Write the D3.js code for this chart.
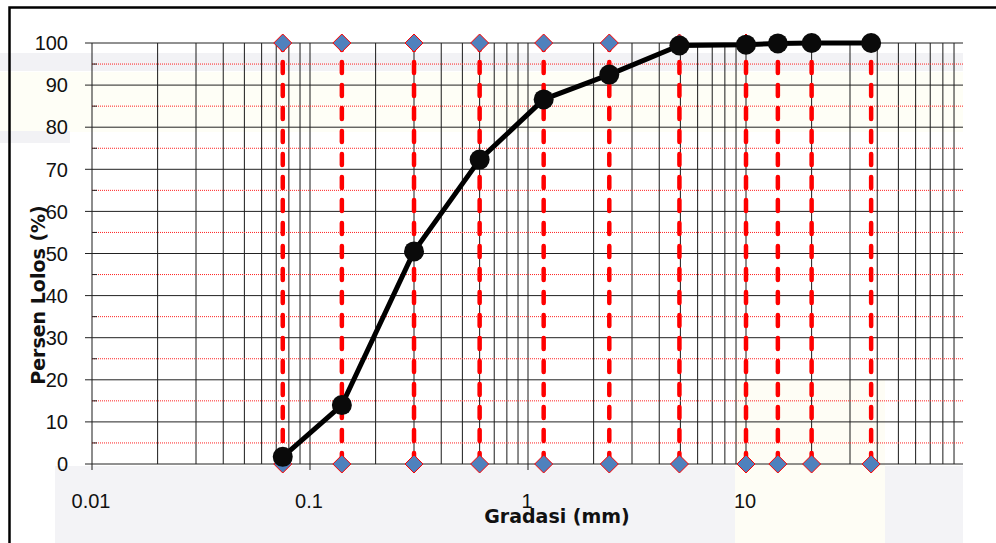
<!DOCTYPE html>
<html lang="id">
<head>
    <meta charset="UTF-8">
    <title>Gradasi Agregat</title>
    <script src="https://d3js.org/d3.v7.min.js"></script>
    <style>
        body { margin: 0; background: #fff; }
        svg { display: block; }
        .tick-label { font-family: "Liberation Sans", Arial, sans-serif; font-size: 20px; fill: #111; }
        .axis-title { font-family: "DejaVu Sans", Verdana, sans-serif; font-size: 19px; font-weight: bold; fill: #111; }
    </style>
</head>
<body>
<div id="chart"></div>
<script>
    // sieve sizes (mm) and percent passing
    const sieveSizes = [0.075, 0.14, 0.3, 0.6, 1.18, 2.36, 4.95, 10, 14, 20, 37.5];
    const percentPassing = [1.7, 14.0, 50.5, 72.3, 86.6, 92.5, 99.4, 99.6, 99.9, 100, 100];
    // limit lines drawn at each sieve from 0 to 100
    const limitLow = 0, limitHigh = 100;
    const yTicks = [0, 10, 20, 30, 40, 50, 60, 70, 80, 90, 100];
    const yHalfTicks = [5, 15, 25, 35, 45, 55, 65, 75, 85, 95];
    const xTickLabels = [0.01, 0.1, 1, 10];

    const W = 996, H = 543;
    const margin = {top: 43, right: 32, bottom: 79, left: 92},
          width = W - margin.left - margin.right,
          height = H - margin.top - margin.bottom;

    const root = d3.select("#chart").append("svg")
        .attr("width", W).attr("height", H);

    // faint watermark tint behind the chart
    const wm = root.append("g");
    wm.append("rect").attr("x", 0).attr("y", 72).attr("width", 963).attr("height", 60).attr("fill", "#fefef6");
    wm.append("rect").attr("x", 0).attr("y", 53).attr("width", 963).attr("height", 18).attr("fill", "#f2f2f5");
    wm.append("rect").attr("x", 0).attr("y", 131).attr("width", 70).attr("height", 12).attr("fill", "#f2f2f5");
    wm.append("rect").attr("x", 55).attr("y", 466).attr("width", 908).attr("height", 77).attr("fill", "#f3f3f6");
    wm.append("rect").attr("x", 735).attr("y", 380).attr("width", 150).attr("height", 163).attr("fill", "#fefdf5");

    // outer frame (cut at right and bottom)
    root.append("path")
        .attr("d", `M9.5,${H} V7.5 H${W}`)
        .attr("fill", "none").attr("stroke", "#000").attr("stroke-width", 2.5);

    const svg = root.append("g").attr("transform", `translate(${margin.left},${margin.top})`);

    const x = d3.scaleLog().domain([0.01, 100]).range([0, width]);
    const y = d3.scaleLinear().domain([0, 100]).range([height, 0]);

    // vertical log grid
    const minorX = [];
    [0.01, 0.1, 1, 10].forEach(dec => {
        for (let k = 1; k <= 9; k++) minorX.push(dec * k);
    });
    svg.append("g").selectAll("line").data(minorX).join("line")
        .attr("x1", d => x(d)).attr("x2", d => x(d))
        .attr("y1", 0)
        .attr("y2", d => xTickLabels.includes(+d.toPrecision(3)) ? height + 6 : height)
        .attr("stroke", "#1a1a1a").attr("stroke-width", 1);

    // red dotted half grid
    svg.append("g").selectAll("line").data(yHalfTicks).join("line")
        .attr("x1", 0).attr("x2", width - 1)
        .attr("y1", d => y(d)).attr("y2", d => y(d))
        .attr("stroke", "#ff2020").attr("stroke-width", 1)
        .attr("stroke-dasharray", "1,1");
    svg.append("g").selectAll("line").data(yHalfTicks).join("line")
        .attr("x1", 0).attr("x2", 5)
        .attr("y1", d => y(d)).attr("y2", d => y(d))
        .attr("stroke", "#222");

    // horizontal major grid
    svg.append("g").selectAll("line").data(yTicks).join("line")
        .attr("x1", -7).attr("x2", width - 1)
        .attr("y1", d => y(d)).attr("y2", d => y(d))
        .attr("stroke", "#222").attr("stroke-width", 1);

    // y tick labels
    svg.append("g").selectAll("text").data(yTicks).join("text")
        .attr("class", "tick-label")
        .attr("x", -24).attr("y", d => y(d)).attr("dy", "0.36em")
        .attr("text-anchor", "end")
        .text(d => d);

    // x tick labels
    svg.append("g").selectAll("text").data(xTickLabels).join("text")
        .attr("class", "tick-label")
        .attr("x", d => x(d) - 1).attr("y", height + 44)
        .attr("text-anchor", "middle")
        .text(d => d);

    // red dashed limit lines at each sieve
    svg.append("g").selectAll("line").data(sieveSizes).join("line")
        .attr("x1", d => x(d)).attr("x2", d => x(d))
        .attr("y1", y(limitLow)).attr("y2", y(limitHigh))
        .attr("stroke", "#ff0000").attr("stroke-width", 4.5)
        .attr("stroke-linecap", "round")
        .attr("stroke-dasharray", "11,12");

    // diamond markers at both ends
    const diamond = "M0,-9 L9,0 L0,9 L-9,0 Z";
    const ends = [];
    sieveSizes.forEach(s => { ends.push([s, limitHigh]); ends.push([s, limitLow]); });
    svg.append("g").selectAll("path").data(ends).join("path")
        .attr("d", diamond)
        .attr("transform", d => `translate(${x(d[0])},${y(d[1])})`)
        .attr("fill", "#4f81bd").attr("stroke", "#ff0000").attr("stroke-width", 1);

    // grading curve
    const pts = sieveSizes.map((s, i) => [s, percentPassing[i]]);
    svg.append("path")
        .datum(pts)
        .attr("fill", "none").attr("stroke", "#000").attr("stroke-width", 5)
        .attr("stroke-linejoin", "round")
        .attr("d", d3.line().x(d => x(d[0])).y(d => y(d[1])));

    svg.append("g").selectAll("circle").data(pts).join("circle")
        .attr("cx", d => x(d[0])).attr("cy", d => y(d[1]))
        .attr("r", 10).attr("fill", "#0a0a0a");

    // axis titles
    root.append("text")
        .attr("class", "axis-title")
        .attr("x", 557).attr("y", 523)
        .attr("text-anchor", "middle")
        .text("Gradasi (mm)");

    root.append("text")
        .attr("class", "axis-title")
        .attr("transform", "translate(45,295) rotate(-90)")
        .attr("text-anchor", "middle")
        .text("Persen Lolos (%)");
</script>
</body>
</html>
